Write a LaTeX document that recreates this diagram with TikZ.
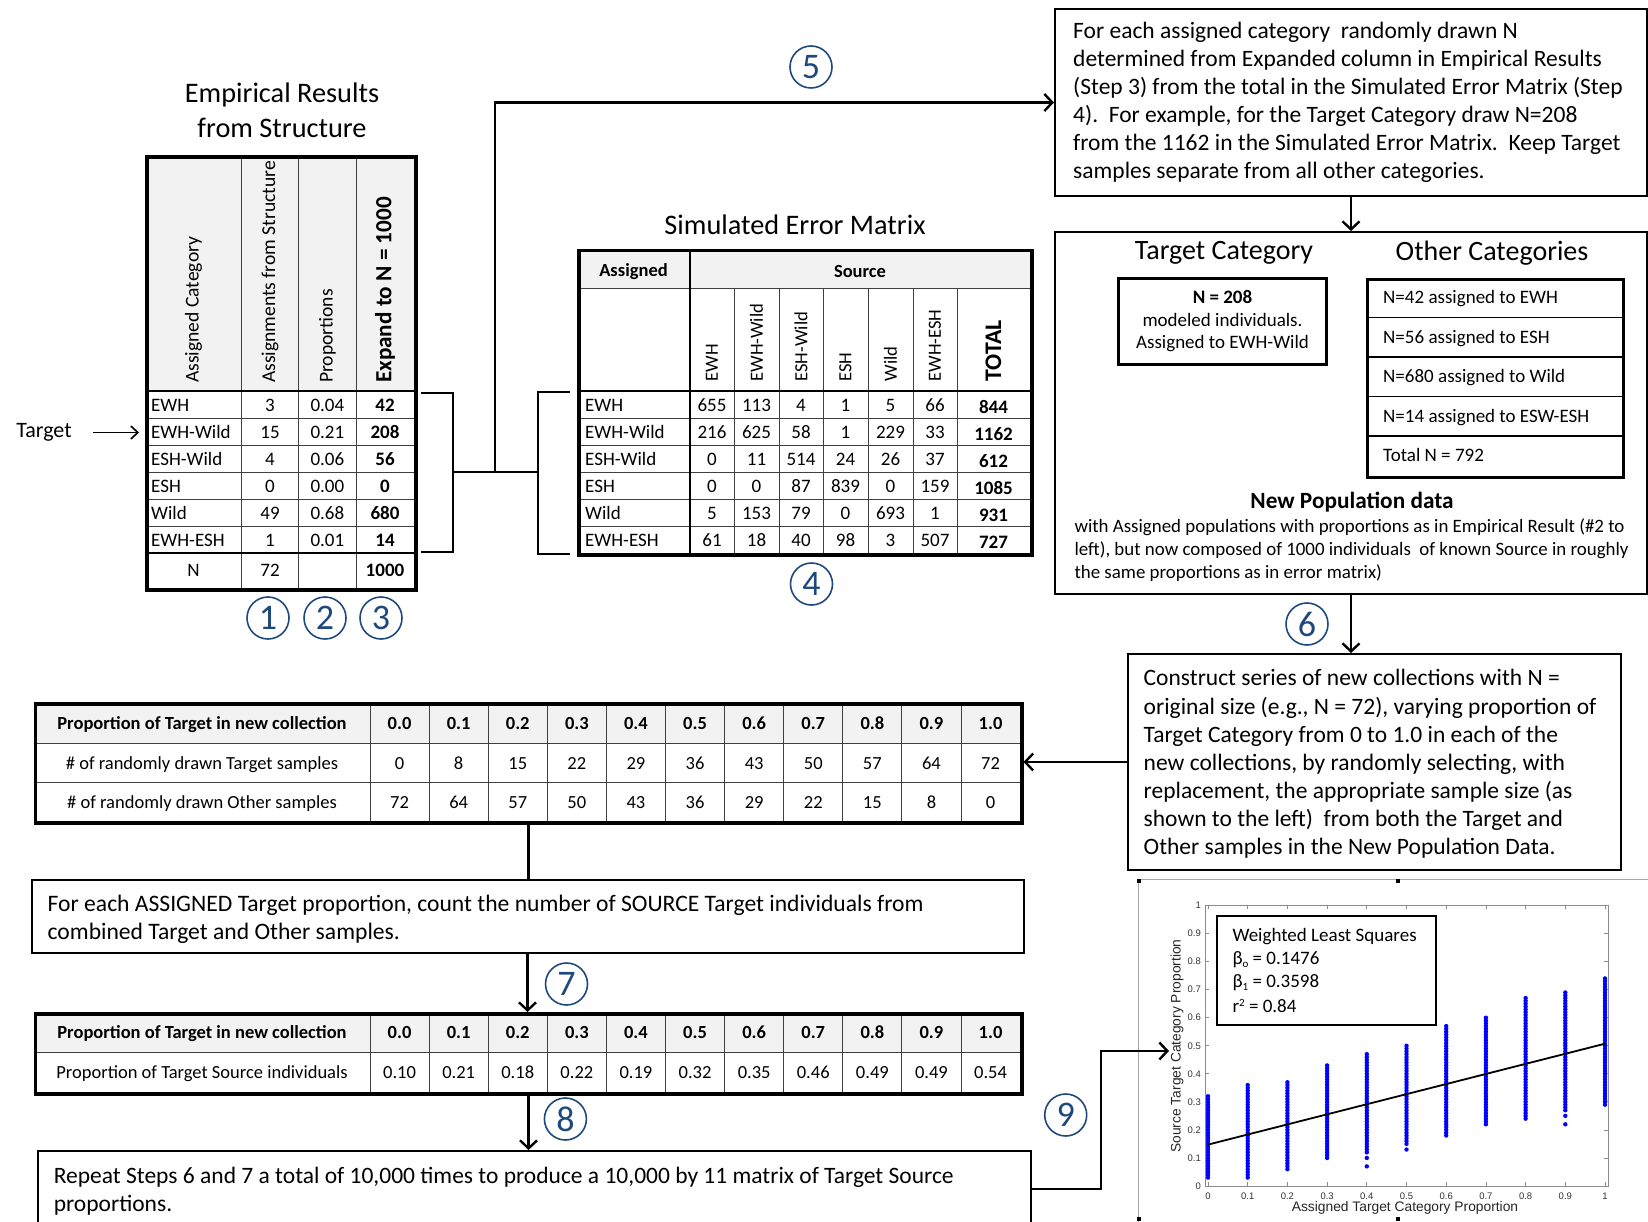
\documentclass[tikz,border=0pt]{standalone}
\usepackage{fontspec}
\setmainfont{Carlito}
\newfontfamily\plotf{Liberation Sans}
\usetikzlibrary{arrows.meta}
\definecolor{stepblue}{HTML}{1F497D}
\definecolor{hdrgray}{HTML}{F2F2F2}
\definecolor{axgray}{HTML}{8C8C8C}
\definecolor{dotblue}{RGB}{0,0,255}
\newcommand{\setfs}[2]{\fontsize{#1}{#2}\selectfont}
\frenchspacing
\tikzset{
  conn/.style={line width=2.6pt},
  arr/.style={line width=2.6pt, -{Straight Barb[length=8pt,width=17pt,line width=2.4pt]}},
  tarr/.style={line width=1.6pt, -{Straight Barb[length=7pt,width=13pt,line width=1.6pt]}},
  box/.style={draw, line width=2pt, inner sep=0pt},
  tbl/.style={draw, line width=3.5pt, inner sep=0pt},
  gridl/.style={line width=1pt, black!75},
  midline/.style={line width=2.2pt},
  stepnum/.style={circle, draw=stepblue, line width=1.6pt, text=stepblue, minimum size=42pt, inner sep=0pt, font=\setfs{36}{36}},
  tcell/.style={font=\setfs{19}{21}, text height=13.5pt, text depth=3.5pt, inner sep=0pt},
  bcell/.style={font=\bfseries\setfs{19}{21}, text height=13.5pt, text depth=3.5pt, inner sep=0pt},
  titletext/.style={font=\setfs{28.3}{32}},
  bodytext/.style={font=\setfs{23.5}{28.1}, align=left, inner sep=0pt},
  plotlbl/.style={font=\plotf\setfs{13.8}{15}, text=black!85},
  ticklbl/.style={font=\plotf\setfs{9.5}{10}, text=black!80, inner sep=0pt},
}
\begin{document}
\begin{tikzpicture}[x=1pt,y=-1pt]
\useasboundingbox (0,0) rectangle (1648,1222);
\clip (0,0) rectangle (1648,1222);
\fill[white] (0,0) rectangle (1648,1222);

% ---------------- Table 1 : Empirical results
\node[titletext] (ert1) at (282,95) {Empirical Results};
\node[titletext] (ert2) at (282,128) {from Structure};
\fill[hdrgray] (145,155.5) rectangle (414,391);
\foreach \xx in {241.7,298.5,356.3} \draw[gridl] (\xx,155.5) -- (\xx,588);
\foreach \yy in {418,445,472,499,526} \draw[gridl] (145,\yy) -- (414,\yy);
\draw[midline] (145,391) -- (414,391);
\draw[midline] (145,553) -- (414,553);
\node[tbl, minimum width=269pt, minimum height=432.5pt, anchor=north west] (tab1) at (145,155.5) {};
\node[rotate=90, anchor=west, font=\setfs{19.6}{21}] (h1) at (193.4,386.5) {Assigned Category};
\node[rotate=90, anchor=west, font=\setfs{19.6}{21}] (h2) at (270,386.5) {Assignments from Structure};
\node[rotate=90, anchor=west, font=\setfs{19.6}{21}] (h3) at (327.4,386.5) {Proportions};
\node[rotate=90, anchor=west, font=\bfseries\setfs{23.2}{25}] (h4) at (385,386.5) {Expand to N = 1000};
\foreach \la/\va/\vb/\vc [count=\i] in {EWH/3/0.04/42,EWH-Wild/15/0.21/208,ESH-Wild/4/0.06/56,ESH/0/0.00/0,Wild/49/0.68/680,EWH-ESH/1/0.01/14}{
  \node[tcell, anchor=west] (ra\i) at (151,{379.5+27*\i}) {\la};
  \node[tcell] (rb\i) at (270,{379.5+27*\i}) {\va};
  \node[tcell] (rc\i) at (327.4,{379.5+27*\i}) {\vb};
  \node[bcell] (rd\i) at (385,{379.5+27*\i}) {\vc};
}
\node[tcell] (rn1) at (193.4,571.5) {N};
\node[tcell] (rn2) at (270,571.5) {72};
\node[bcell] (rn4) at (385,571.5) {1000};
\node[stepnum] (s1) at (268,618) {1};
\node[stepnum] (s2) at (325,618) {2};
\node[stepnum] (s3) at (381,618) {3};
\node[font=\setfs{22}{24}] (tgt) at (44,432.5) {Target};

% ---------------- Table 2 : Simulated error matrix
\node[titletext] (semt) at (795,225) {Simulated Error Matrix};
\fill[hdrgray] (577,249) rectangle (1030,289);
\foreach \xx in {734,779,823,868,913,957} \draw[gridl] (\xx,289) -- (\xx,553);
\foreach \yy in {289,418,445,472,499,526} \draw[gridl] (577,\yy) -- (1030,\yy);
\draw[midline] (577,391) -- (1030,391);
\draw[midline] (690,249) -- (690,553);
\node[tbl, minimum width=453pt, minimum height=304pt, anchor=north west] (tab2) at (577,249) {};
\node[font=\bfseries\setfs{18.5}{20}] (asg) at (633.5,271.5) {Assigned};
\node[font=\bfseries\setfs{18.5}{20}] (src) at (860,271.5) {Source};
\foreach \la/\xx [count=\i] in {EWH/712,EWH-Wild/756.5,ESH-Wild/801,ESH/845.5,Wild/890.5,EWH-ESH/935}
  \node[rotate=90, anchor=west, font=\setfs{18.6}{20}] (sh\i) at (\xx,385) {\la};
\node[rotate=90, anchor=west, font=\bfseries\setfs{23.8}{25}] (shT) at (993.5,385) {TOTAL};
\foreach \la/\va/\vb/\vc/\vd/\ve/\vf/\vg [count=\i] in {EWH/655/113/4/1/5/66/844,EWH-Wild/216/625/58/1/229/33/1162,ESH-Wild/0/11/514/24/26/37/612,ESH/0/0/87/839/0/159/1085,Wild/5/153/79/0/693/1/931,EWH-ESH/61/18/40/98/3/507/727}{
  \node[tcell, anchor=west] (ma\i) at (585,{379.5+27*\i}) {\la};
  \node[tcell] (mb\i) at (712,{379.5+27*\i}) {\va};
  \node[tcell] (mc\i) at (756.5,{379.5+27*\i}) {\vb};
  \node[tcell] (md\i) at (801,{379.5+27*\i}) {\vc};
  \node[tcell] (me\i) at (845.5,{379.5+27*\i}) {\vd};
  \node[tcell] (mf\i) at (890.5,{379.5+27*\i}) {\ve};
  \node[tcell] (mg\i) at (935,{379.5+27*\i}) {\vf};
  \node[bcell] (mh\i) at (993.5,{381.5+27*\i}) {\vg};
}
\node[stepnum] (s4) at (811.5,584) {4};
\node[stepnum] (s5) at (811,67) {5};

% brackets
\coordinate (b1) at (453,472);
\coordinate (b2) at (538,472);
\coordinate (j5) at (495,472);
\draw[line width=2.2pt] (421,393) -- (453,393) -- (453,552) -- (421,552);
\draw[line width=2.2pt] (570,392) -- (538,392) -- (538,554) -- (570,554);

% ---------------- Box 5
\node[box, minimum width=592pt, minimum height=187pt, anchor=north west] (box5) at (1054,8) {};
\node[bodytext, anchor=west] (box5t) at (1073,102.5)
 {For each assigned category~ randomly drawn N\\
  determined from Expanded column in Empirical Results\\
  (Step 3) from the total in the Simulated Error Matrix (Step\\
  4).~ For example, for the Target Category draw N=208\\
  from the 1162 in the Simulated Error Matrix.~ Keep Target\\
  samples separate from all other categories.};

% ---------------- Box 6
\node[box, minimum width=592pt, minimum height=362pt, anchor=north west] (box6) at (1054,231) {};
\node[font=\setfs{28}{30}] (tcat) at (1224,253) {Target Category};
\node[font=\setfs{28}{30}] (ocat) at (1492,253) {Other Categories};
\node[draw, line width=3pt, inner sep=0pt, minimum width=208pt, minimum height=85pt, anchor=north west, align=center, font=\setfs{19}{22.5}] (tbox) at (1117,277.5)
 {\textbf{N = 208}\\modeled individuals.\\Assigned to EWH-Wild};
\foreach \yy in {317.5,357,396.5,436} \draw[line width=1.5pt] (1365.5,\yy) -- (1622,\yy);
\node[draw, line width=3pt, inner sep=0pt, minimum width=256.5pt, minimum height=197.5pt, anchor=north west] (obox) at (1365.5,278) {};
\foreach \t [count=\i] in {N=42 assigned to EWH,N=56 assigned to ESH,N=680 assigned to Wild,N=14 assigned to ESW-ESH,Total N = 792}
  \node[tcell, anchor=west] (oc\i) at (1383,{259+39.5*\i}) {\t};
\node[font=\bfseries\setfs{23.3}{25}] (npd) at (1352,502) {New Population data};
\node[anchor=west, align=left, font=\setfs{18.9}{22.7}] (nptext) at (1071,550)
 {with Assigned populations with proportions as in Empirical Result (\#2 to\\
  left), but now composed of 1000 individuals~ of known Source in roughly\\
  the same proportions as in error matrix)};
\node[stepnum] (s6) at (1307,624) {6};

% ---------------- Box 7
\node[box, minimum width=493pt, minimum height=216pt, anchor=north west] (box7) at (1127,653) {};
\node[bodytext, anchor=west] (box7t) at (1143.5,764)
 {Construct series of new collections with N =\\
  original size (e.g., N = 72), varying proportion of\\
  Target Category from 0 to 1.0 in each of the\\
  new collections, by randomly selecting, with\\
  replacement, the appropriate sample size (as\\
  shown to the left)~ from both the Target and\\
  Other samples in the New Population Data.};

% ---------------- Table 3
\fill[hdrgray] (33.6,702) rectangle (1020,743);
\foreach \i in {0,...,10} \draw[gridl] ({370+59.1*\i},702) -- ({370+59.1*\i},821);
\draw[gridl] (33.6,743) -- (1020,743);
\draw[gridl] (33.6,782) -- (1020,782);
\node[tbl, minimum width=986.4pt, minimum height=119pt, anchor=north west] (tab3) at (33.6,702) {};
\node[bcell, font=\bfseries\setfs{18.5}{20}] (t3h) at (202,724) {Proportion of Target in new collection};
\node[tcell, font=\setfs{18.5}{20}] (t3a) at (202,764) {\# of randomly drawn Target samples};
\node[tcell, font=\setfs{18.5}{20}] (t3b) at (202,803) {\# of randomly drawn Other samples};
\foreach \v [count=\i from 0] in {0.0,0.1,0.2,0.3,0.4,0.5,0.6,0.7,0.8,0.9,1.0}
  \node[bcell, font=\bfseries\setfs{18.5}{20}] (t3c\i) at ({370+59.1*(\i+0.5)},724) {\v};
\foreach \v [count=\i from 0] in {0,8,15,22,29,36,43,50,57,64,72}
  \node[tcell, font=\setfs{18.5}{20}] (t3d\i) at ({370+59.1*(\i+0.5)},764) {\v};
\foreach \v [count=\i from 0] in {72,64,57,50,43,36,29,22,15,8,0}
  \node[tcell, font=\setfs{18.5}{20}] (t3e\i) at ({370+59.1*(\i+0.5)},803) {\v};

% ---------------- Box 8
\node[box, minimum width=992pt, minimum height=73.4pt, anchor=north west] (box8) at (30.5,878.6) {};
\node[bodytext, font=\setfs{23.6}{28.2}, anchor=west] (box8t) at (47.5,919)
 {For each ASSIGNED Target proportion, count the number of SOURCE Target individuals from\\
  combined Target and Other samples.};
\node[stepnum] (s7) at (566.5,984) {7};

% ---------------- Table 4
\fill[hdrgray] (33.6,1012) rectangle (1020,1052);
\foreach \i in {0,...,10} \draw[gridl] ({370+59.1*\i},1012) -- ({370+59.1*\i},1092);
\draw[gridl] (33.6,1052) -- (1020,1052);
\node[tbl, minimum width=986.4pt, minimum height=80pt, anchor=north west] (tab4) at (33.6,1012) {};
\node[bcell, font=\bfseries\setfs{18.5}{20}] (t4h) at (202,1033.5) {Proportion of Target in new collection};
\node[tcell, font=\setfs{18.5}{20}] (t4a) at (202,1073.5) {Proportion of Target Source individuals};
\foreach \v [count=\i from 0] in {0.0,0.1,0.2,0.3,0.4,0.5,0.6,0.7,0.8,0.9,1.0}
  \node[bcell, font=\bfseries\setfs{18.5}{20}] (t4c\i) at ({370+59.1*(\i+0.5)},1033.5) {\v};
\foreach \v [count=\i from 0] in {0.10,0.21,0.18,0.22,0.19,0.32,0.35,0.46,0.49,0.49,0.54}
  \node[tcell, font=\setfs{18.5}{20}] (t4d\i) at ({370+59.1*(\i+0.5)},1073.5) {\v};
\node[stepnum] (s8) at (565.4,1119) {8};

% ---------------- Box 9
\node[box, minimum width=993pt, minimum height=76pt, anchor=north west] (box9) at (36.8,1150) {};
\node[bodytext, anchor=west] (box9t) at (53.6,1191)
 {Repeat Steps 6 and 7 a total of 10,000 times to produce a 10,000 by 11 matrix of Target Source\\
  proportions.};
\node[stepnum] (s9) at (1065.7,1115) {9};

% ---------------- Plot
\draw[black!35, line width=0.8pt] (1138,1222) -- (1138,879) -- (1648,879);
\foreach \hx/\hy in {1137/879,1396/879,1137/1217,1396/1217} \fill (\hx,\hy) rectangle ++(4,4);
\draw[axgray, line width=0.9pt] (1205,905) rectangle (1608,1186);
\foreach \i in {0,...,10} {
  \draw[axgray, line width=0.8pt] ({1208+39.7*\i},1186) -- ++(0,-4);
  \draw[axgray, line width=0.8pt] ({1208+39.7*\i},905) -- ++(0,4);
  \draw[axgray, line width=0.8pt] (1205,{1186-28.05*\i}) -- ++(4,0);
  \draw[axgray, line width=0.8pt] (1608,{1186-28.05*\i}) -- ++(-4,0);
}
\foreach \la [count=\i from 0] in {0,0.1,0.2,0.3,0.4,0.5,0.6,0.7,0.8,0.9,1} {
  \node[ticklbl] (xt\i) at ({1208+39.7*\i},1196) {\la};
  \node[ticklbl, anchor=east] (yt\i) at (1201,{1186-28.05*\i}) {\la};
}
\foreach \xi/\ya/\yb in {0/3/32,1/3/36,2/6/37,3/10/43,4/12/47,5/15/50,6/18/57,7/22/60,8/24/67,9/27/69,10/29/74} {
  \foreach \k in {\ya,...,\yb}
    \fill[dotblue] ({1208+39.7*\xi},{1186-2.805*\k}) circle[radius=2.2pt];
}
\foreach \xi/\k in {4/10,4/7,5/13,9/25,9/22}
  \fill[dotblue] ({1208+39.7*\xi},{1186-2.805*\k}) circle[radius=2.2pt];
\draw[line width=1.8pt] (1208,{1186-280.5*0.1476}) -- (1605,{1186-280.5*0.5074});
\node[draw, line width=2pt, fill=white, inner sep=0pt, minimum width=219pt, minimum height=109pt, anchor=north west] (leg) at (1216,915) {};
\node[anchor=west, font=\setfs{19}{22}] (lg1) at (1229,937) {Weighted Least Squares};
\node[anchor=west, font=\setfs{19}{22}] (lg2) at (1229,960) {β\raisebox{-3pt}{\setfs{11}{11}o} = 0.1476};
\node[anchor=west, font=\setfs{19}{22}] (lg3) at (1229,983) {β\raisebox{-3pt}{\setfs{11}{11}1} = 0.3598};
\node[anchor=west, font=\setfs{19}{22}] (lg4) at (1229,1005.5) {r\raisebox{6pt}{\setfs{11}{11}2} = 0.84};
\node[plotlbl] (xlab) at (1405,1207.5) {Assigned Target Category Proportion};
\node[plotlbl, rotate=90] (ylab) at (1177,1046) {Source Target Category Proportion};
\coordinate (p9) at (1169,1051);

% ---------------- Connectors
\draw[tarr] ([xshift=18pt]tgt.east) -- ([xshift=-6pt]tgt.east -| tab1.west);
\draw[line width=2.2pt] (b1) -- (b2);
\draw[arr] (j5) |- (box5.west);
\draw[arr] (box5.south) -- (box6.north);
\draw[arr] (box6.south) -- (box6.south |- box7.north);
\draw[arr] (box7.west) -- (box7.west -| tab3.east);
\draw[conn] (tab3.south) -- (tab3.south |- box8.north);
\draw[arr] (box8.south) -- (box8.south |- tab4.north);
\draw[arr] (tab4.south) -- (tab4.south |- box9.north);
\draw[arr] (box9.east) -- ++(69,0) |- (p9);
\end{tikzpicture}
\end{document}
